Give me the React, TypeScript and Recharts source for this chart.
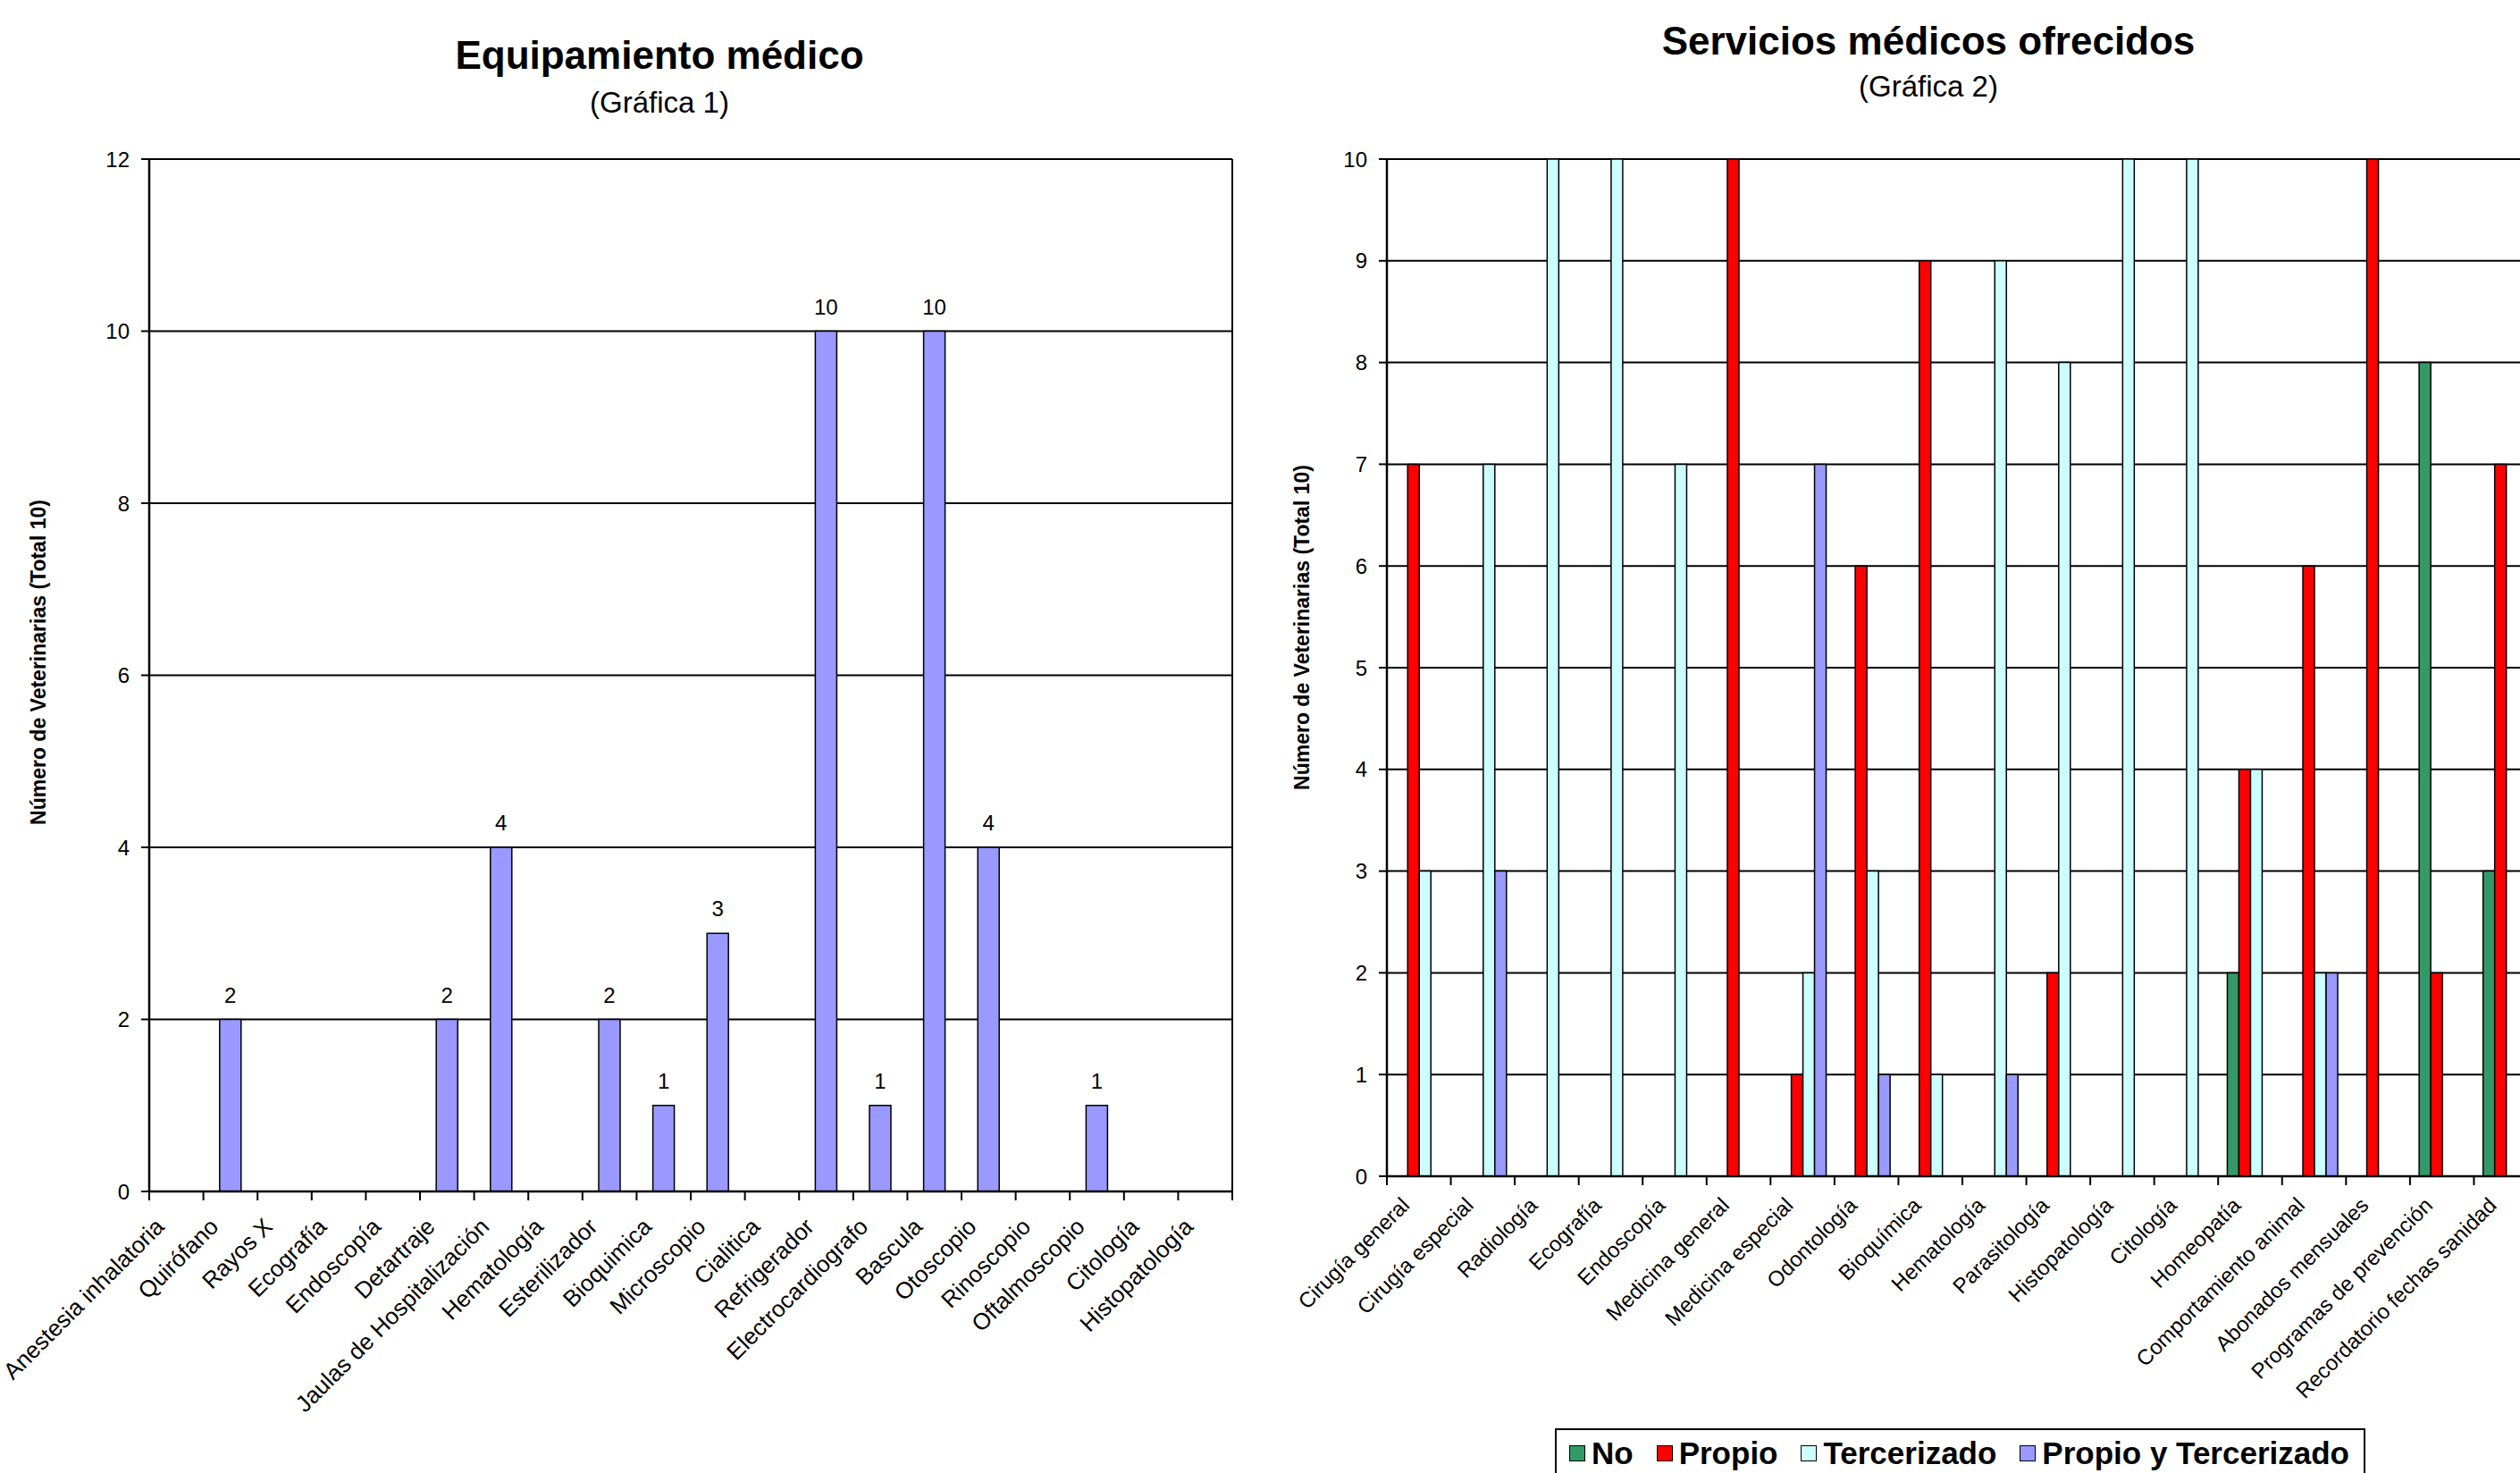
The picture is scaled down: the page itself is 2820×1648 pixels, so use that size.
import React from "react";
import { BarChart, Bar, XAxis, YAxis, CartesianGrid, LabelList } from "recharts";

// Gráfica 1: equipamiento médico
const equipCategories = [
  "Anestesia inhalatoria",
  "Quirófano",
  "Rayos X",
  "Ecografía",
  "Endoscopía",
  "Detartraje",
  "Jaulas de Hospitalización",
  "Hematología",
  "Esterilizador",
  "Bioquimica",
  "Microscopio",
  "Cialitica",
  "Refrigerador",
  "Electrocardiografo",
  "Bascula",
  "Otoscopio",
  "Rinoscopio",
  "Oftalmoscopio",
  "Citología",
  "Histopatología",
];
const equipValues = [0, 2, 0, 0, 0, 2, 4, 0, 2, 1, 3, 0, 10, 1, 10, 4, 0, 1, 0, 0];
const equipTicks = [0, 2, 4, 6, 8, 10, 12];

// Gráfica 2: servicios médicos ofrecidos
const servCategories = [
  "Cirugía general",
  "Cirugía especial",
  "Radiología",
  "Ecografía",
  "Endoscopía",
  "Medicina general",
  "Medicina especial",
  "Odontología",
  "Bioquímica",
  "Hematología",
  "Parasitología",
  "Histopatología",
  "Citología",
  "Homeopatía",
  "Comportamiento animal",
  "Abonados mensuales",
  "Programas de prevención",
  "Recordatorio fechas sanidad",
];
const servNo = [0, 0, 0, 0, 0, 0, 0, 0, 0, 0, 0, 0, 0, 2, 0, 0, 8, 3];
const servPropio = [7, 0, 0, 0, 0, 10, 1, 6, 9, 0, 2, 0, 0, 4, 6, 10, 2, 7];
const servTercerizado = [3, 7, 10, 10, 7, 0, 2, 3, 1, 9, 8, 10, 10, 4, 2, 0, 0, 0];
const servPropioYTerc = [0, 3, 0, 0, 0, 0, 7, 1, 0, 1, 0, 0, 0, 0, 2, 0, 0, 0];
const servTicks = [0, 1, 2, 3, 4, 5, 6, 7, 8, 9, 10];

const servSeries = [
  { key: "no", name: "No", color: "#339966" },
  { key: "propio", name: "Propio", color: "#FF0000" },
  { key: "tercerizado", name: "Tercerizado", color: "#CCFFFF" },
  { key: "propioTerc", name: "Propio y Tercerizado", color: "#9999FF" },
];

const equipData = equipCategories.map((name, i) => ({ name, value: equipValues[i] }));
const servData = servCategories.map((name, i) => ({
  name,
  no: servNo[i],
  propio: servPropio[i],
  tercerizado: servTercerizado[i],
  propioTerc: servPropioYTerc[i],
}));

const FONT = "'Liberation Sans', Arial, sans-serif";
const AXIS_LABEL = "Número de Veterinarias (Total 10)";

function CategoryTick(props: any) {
  const { x, y, payload, index, count, dx, dy, size } = props;
  const half = payload?.offset ?? 0;
  const tx = x + dx;
  const ty = y + dy;
  return (
    <g>
      <line x1={x - half} x2={x - half} y1={y} y2={y + 10} stroke="#000" strokeWidth={2} />
      {index === count - 1 && (
        <line x1={x + half} x2={x + half} y1={y} y2={y + 10} stroke="#000" strokeWidth={2} />
      )}
      <text
        x={tx}
        y={ty}
        transform={`rotate(-45, ${tx}, ${ty})`}
        textAnchor="end"
        fontSize={size}
        fontFamily={FONT}
        fill="#000"
      >
        {payload.value}
      </text>
    </g>
  );
}

function AxisTitle({ cx, cy }: { cx: number; cy: number }) {
  return (
    <text
      x={cx}
      y={cy}
      transform={`rotate(-90, ${cx}, ${cy})`}
      textAnchor="middle"
      dominantBaseline="central"
      fontSize={23}
      fontWeight="bold"
      fontFamily={FONT}
      fill="#000"
    >
      {AXIS_LABEL}
    </text>
  );
}

export default function App() {
  return (
    <div
      style={{
        position: "absolute",
        left: 0,
        top: 0,
        width: 2820,
        height: 1648,
        overflow: "hidden",
        background: "#fff",
        fontFamily: FONT,
      }}
    >
      {/* titles */}
      <svg width={2820} height={1648} style={{ position: "absolute", left: 0, top: 0, pointerEvents: "none" }}>
        <text x={738} y={77} textAnchor="middle" fontSize={44} fontWeight="bold" fontFamily={FONT}>
          Equipamiento médico
        </text>
        <text x={738} y={126} textAnchor="middle" fontSize={33} fontFamily={FONT}>
          (Gráfica 1)
        </text>
        <text x={2158} y={61} textAnchor="middle" fontSize={44} fontWeight="bold" fontFamily={FONT}>
          Servicios médicos ofrecidos
        </text>
        <text x={2158} y={108} textAnchor="middle" fontSize={33} fontFamily={FONT}>
          (Gráfica 2)
        </text>
        <AxisTitle cx={43} cy={741} />
        <AxisTitle cx={1457} cy={702} />
      </svg>

      {/* Gráfica 1 */}
      <div style={{ position: "absolute", left: 0, top: 0 }}>
        <BarChart
          width={1420}
          height={1648}
          data={equipData}
          margin={{ top: 178, right: 41, bottom: 0, left: 0 }}
          barCategoryGap="30%"
        >
          <CartesianGrid
            stroke="#000"
            strokeWidth={2}
            vertical
            verticalCoordinatesGenerator={({ offset }: any) => [offset.left + offset.width]}
          />
          <XAxis
            dataKey="name"
            interval={0}
            height={315}
            tickSize={0}
            tickMargin={0}
            tickLine={false}
            axisLine={{ stroke: "#000", strokeWidth: 2.5 }}
            tick={(p: any) => (
              <CategoryTick {...p} count={equipCategories.length} dx={-12} dy={41} size={26} />
            )}
          />
          <YAxis
            width={167}
            domain={[0, 12]}
            ticks={equipTicks}
            interval={0}
            tickSize={9}
            tickMargin={13}
            axisLine={{ stroke: "#000", strokeWidth: 2.5 }}
            tickLine={{ stroke: "#000", strokeWidth: 2 }}
            tick={{ fontSize: 24, fill: "#000", fontFamily: FONT }}
          />
          <Bar dataKey="value" fill="#9999FF" stroke="#000" strokeWidth={1.5} isAnimationActive={false}>
            <LabelList
              dataKey="value"
              position="top"
              offset={19}
              formatter={(v: any) => (v ? v : "")}
              style={{ fontSize: 24, fill: "#000", fontFamily: FONT }}
            />
          </Bar>
        </BarChart>
      </div>

      {/* Gráfica 2 */}
      <div style={{ position: "absolute", left: 1400, top: 0 }}>
        <BarChart
          width={1440}
          height={1648}
          data={servData}
          margin={{ top: 178, right: 0, bottom: 0, left: 0 }}
          barCategoryGap="14.3%"
          barGap={0}
        >
          <CartesianGrid stroke="#000" strokeWidth={2} vertical={false} />
          <XAxis
            dataKey="name"
            interval={0}
            height={332}
            tickSize={0}
            tickMargin={0}
            tickLine={false}
            axisLine={{ stroke: "#000", strokeWidth: 2.5 }}
            tick={(p: any) => (
              <CategoryTick {...p} count={servCategories.length} dx={-9} dy={34} size={24} />
            )}
          />
          <YAxis
            width={152}
            domain={[0, 10]}
            ticks={servTicks}
            interval={0}
            tickSize={9}
            tickMargin={13}
            axisLine={{ stroke: "#000", strokeWidth: 2.5 }}
            tickLine={{ stroke: "#000", strokeWidth: 2 }}
            tick={{ fontSize: 24, fill: "#000", fontFamily: FONT }}
          />
          {servSeries.map((s) => (
            <Bar
              key={s.key}
              dataKey={s.key}
              name={s.name}
              fill={s.color}
              stroke="#000"
              strokeWidth={1.5}
              isAnimationActive={false}
            />
          ))}
        </BarChart>
      </div>

      {/* legend of Gráfica 2 */}
      <div
        style={{
          position: "absolute",
          left: 1740,
          top: 1598,
          width: 907,
          height: 80,
          boxSizing: "border-box",
          border: "2px solid #000",
          padding: "6px 14px",
          display: "flex",
          alignItems: "flex-start",
          gap: 26,
          fontWeight: "bold",
          fontSize: 35,
          whiteSpace: "nowrap",
        }}
      >
        {servSeries.map((s) => (
          <div key={s.key} style={{ display: "flex", alignItems: "center", gap: 7 }}>
            <span
              style={{
                display: "inline-block",
                width: 18,
                height: 18,
                boxSizing: "border-box",
                background: s.color,
                border: "1.5px solid #000",
              }}
            />
            <span>{s.name}</span>
          </div>
        ))}
      </div>
    </div>
  );
}
